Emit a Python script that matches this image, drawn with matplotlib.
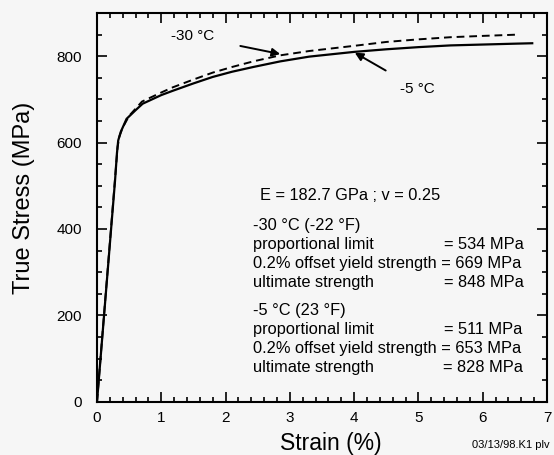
import matplotlib
matplotlib.use('Agg')
from matplotlib import pyplot as plt
from matplotlib.ticker import MultipleLocator
import numpy as np

plt.rcParams['font.family'] = ['Liberation Sans', 'DejaVu Sans']

# -5 C curve (solid), strain in %, true stress in MPa
strain_m5 = [0.0, 0.28, 0.31, 0.33, 0.37, 0.46, 0.6, 0.71, 1.0, 1.18, 1.5, 1.8, 2.1,
             2.43, 2.85, 3.3, 4.0, 4.5, 5.0, 5.5, 6.0, 6.5, 6.77]
stress_m5 = [0, 511, 575, 605, 625, 655, 675, 690, 710, 720, 737, 752, 764,
             775, 788, 799, 810, 816, 821, 825, 827, 829, 830]

# -30 C curve (dashed)
strain_m30 = [0.0, 0.29, 0.32, 0.35, 0.4, 0.5, 0.7, 1.0, 1.18, 1.5, 1.8, 2.1,
              2.43, 2.85, 3.3, 4.0, 4.5, 5.0, 5.5, 6.0, 6.55]
stress_m30 = [0, 534, 590, 615, 635, 662, 695, 716, 728, 746, 762, 775,
              788, 802, 812, 824, 833, 839, 844, 847, 850]

x_ticks = [0, 1, 2, 3, 4, 5, 6, 7]
y_ticks = [0, 200, 400, 600, 800]

block_30 = ['-30 °C (-22 °F)', 'proportional limit',
            '0.2% offset yield strength = 669 MPa', 'ultimate strength']
vals_30 = {1: '= 534 MPa', 3: '= 848 MPa'}
block_5 = ['-5 °C (23 °F)', 'proportional limit',
           '0.2% offset yield strength = 653 MPa', 'ultimate strength']
vals_5 = {1: '= 511 MPa', 3: '= 828 MPa'}

bg = '#f6f6f6'
fig = plt.figure(figsize=(5.54, 4.55), dpi=100, facecolor=bg)
ax = fig.add_axes([0.1751, 0.1171, 0.8123, 0.8543], facecolor=bg)

ax.plot(strain_m5, stress_m5, color='black', lw=1.6, ls='-')
ax.plot(strain_m30, stress_m30, color='black', lw=1.4, ls=(0, (4, 2.5)))

ax.set_xlim(0, 7)
ax.set_ylim(0, 900)
ax.set_xticks(x_ticks)
ax.set_yticks(y_ticks)
ax.xaxis.set_minor_locator(MultipleLocator(0.2))
ax.yaxis.set_minor_locator(MultipleLocator(50))
ax.tick_params(which='both', direction='in', top=True, right=True, labelsize=11, width=1.2)
ax.tick_params(which='major', length=7)
ax.tick_params(which='minor', length=3.6)
ax.tick_params(axis='x', pad=7)
ax.tick_params(axis='y', pad=11)
for s in ax.spines.values():
    s.set_linewidth(1.5)

ax.set_xlabel('Strain (%)', fontsize=16.5)
ax.xaxis.set_label_coords(0.52, -0.077)
ax.set_ylabel('True Stress (MPa)', fontsize=17)
ax.yaxis.set_label_coords(-0.137, 0.525)

# curve labels with arrows
ax.annotate('-30 °C', xy=(2.85, 805), xytext=(1.49, 846), fontsize=11,
            ha='center', va='center',
            arrowprops=dict(arrowstyle='-|>', color='black', lw=1.4,
                            shrinkA=17, shrinkB=0, mutation_scale=12))
ax.annotate('-5 °C', xy=(4.01, 808), xytext=(4.98, 725), fontsize=11,
            ha='center', va='center',
            arrowprops=dict(arrowstyle='-|>', color='black', lw=1.4,
                            shrinkA=12, shrinkB=0, mutation_scale=12))

# property text block
fs = 11.8
ax.text(2.53, 478, 'E = 182.7 GPa ; v = 0.25', fontsize=fs, va='center')
rows_30 = [409, 365, 321, 277]
rows_5 = [212, 168, 124, 80]
for i, t in enumerate(block_30):
    ax.text(2.42, rows_30[i], t, fontsize=fs, va='center')
for i, v in vals_30.items():
    ax.text(6.64, rows_30[i], v, fontsize=fs, va='center', ha='right')
for i, t in enumerate(block_5):
    ax.text(2.42, rows_5[i], t, fontsize=fs, va='center')
for i, v in vals_5.items():
    ax.text(6.62, rows_5[i], v, fontsize=fs, va='center', ha='right')

fig.text(0.852, 0.022, '03/13/98.K1 plv', fontsize=8, ha='left', va='center')

plt.savefig('out.png', dpi=100, facecolor=bg)
